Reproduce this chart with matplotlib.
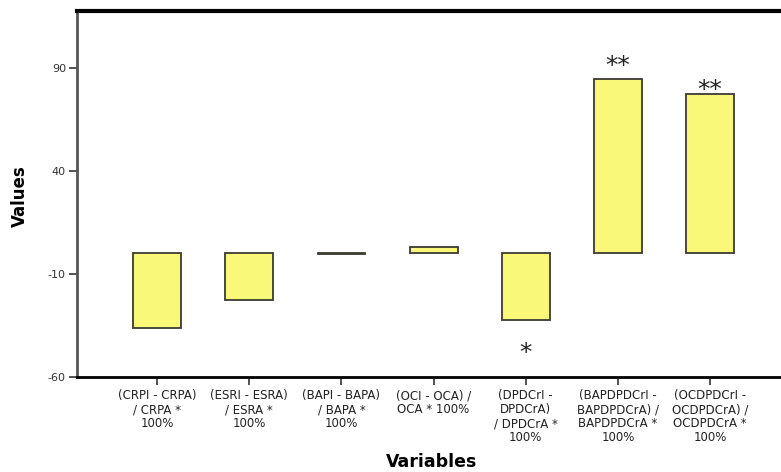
import matplotlib
matplotlib.use("Agg")
import matplotlib.pyplot as plt

categories = [
    "(CRPI - CRPA)\n/ CRPA *\n100%",
    "(ESRI - ESRA)\n/ ESRA *\n100%",
    "(BAPI - BAPA)\n/ BAPA *\n100%",
    "(OCI - OCA) /\nOCA * 100%",
    "(DPDCrI -\nDPDCrA)\n/ DPDCrA *\n100%",
    "(BAPDPDCrI -\nBAPDPDCrA) /\nBAPDPDCrA *\n100%",
    "(OCDPDCrI -\nOCDPDCrA) /\nOCDPDCrA *\n100%",
]
values = [-36.2, -22.8, -0.2, 3.0, -32.4, 84.8, 77.4]
significance = ["", "", "", "", "*", "**", "**"]
yticks = [-60, -10, 40, 90]

# styling: vertical offset of significance marks (data units)
star_offsets = [0, 0, 0, 0, -16.0, 6.0, 2.0]

fig = plt.figure(figsize=(7.81, 4.72), dpi=100)
ax = fig.add_axes([0.0986, 0.2013, 0.9014, 0.7754])

x = list(range(len(categories)))
ax.bar(x, values, width=0.52, color="#FAF878", edgecolor="#3a3a30", linewidth=1.3, zorder=3)

for xi, v, s, off in zip(x, values, significance, star_offsets):
    if s:
        ax.text(xi, v + off, s, ha="center", va="center", fontsize=18, color="#222222")

ax.set_xlim(-0.87, 6.77)
ax.set_ylim(-60, 117.7)
ax.set_xticks(x)
ax.set_xticklabels(categories, fontsize=8.5, color="#222222", linespacing=1.1)
ax.set_yticks(yticks)
ax.set_yticklabels([str(t) for t in yticks], fontsize=8, color="#333333")

ax.tick_params(axis="x", length=6, width=1.2, color="#333333", pad=3)
ax.tick_params(axis="y", length=6, width=1.2, color="#333333", pad=2)

ax.spines["right"].set_visible(False)
ax.spines["top"].set_linewidth(3)
ax.spines["top"].set_color("black")
ax.spines["bottom"].set_linewidth(2)
ax.spines["bottom"].set_color("black")
ax.spines["left"].set_linewidth(2)
ax.spines["left"].set_color("#555555")

fig.text(0.0256, 0.585, "Values", ha="center", va="center", rotation=90,
         fontsize=12, fontweight="bold")
fig.text(0.552, 0.021, "Variables", ha="center", va="center", fontsize=12.5, fontweight="bold")

fig.savefig("out.png", dpi=100)
